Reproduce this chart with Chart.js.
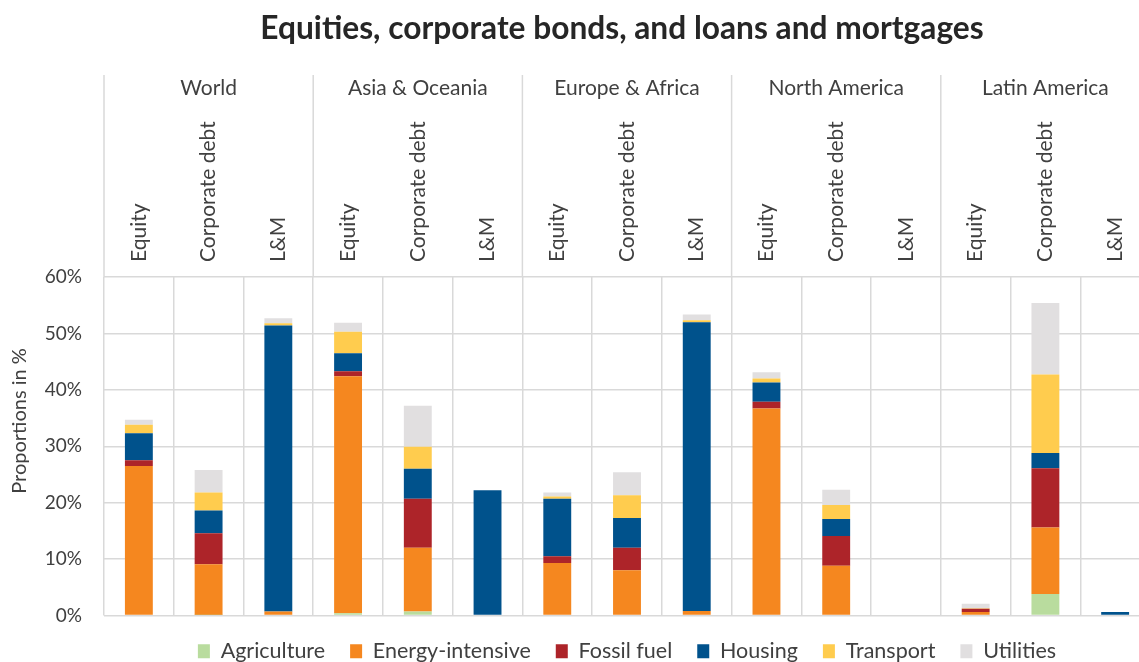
<!DOCTYPE html>
<html>
<head>
<meta charset="utf-8">
<style>
  html, body { margin: 0; padding: 0; background: #fff; overflow: hidden; }
  #wrap { width: 1150px; height: 672px; position: relative; }
</style>
<script src="https://cdn.jsdelivr.net/npm/chart.js@4.4.1/dist/chart.umd.min.js"></script>
</head>
<body>
<div id="wrap"><canvas id="c"></canvas></div>
<script>
// regions and instruments — one bar per (region, instrument)
const regions = ['World', 'Asia & Oceania', 'Europe & Africa', 'North America', 'Latin America'];
const instruments = ['Equity', 'Corporate debt', 'L&M'];
const yTicks = [0, 10, 20, 30, 40, 50, 60];

// shares in %, order: World E/CD/LM, Asia E/CD/LM, Europe ..., N. America ..., Latin ...
const agriculture     = [0.0, 0.1, 0.0,  0.4, 0.7, 0.0,   0.0, 0.0, 0.0,   0.0, 0.0, 0.0,  0.0, 3.8, 0.0];
const energyIntensive = [26.5, 9.0, 0.7, 42.0, 11.3, 0.0,  9.3, 8.0, 0.8,  36.7, 8.8, 0.0,  0.6, 11.8, 0.0];
const fossilFuel      = [1.0, 5.5, 0.0,  0.9, 8.7, 0.0,   1.2, 4.0, 0.0,   1.2, 5.3, 0.0,  0.6, 10.5, 0.0];
const housing         = [4.8, 4.0, 50.7, 3.2, 5.3, 22.2,  10.2, 5.3, 51.2, 3.4, 3.0, 0.0,  0.0, 2.7, 0.6];
const transport       = [1.5, 3.2, 0.4,  3.8, 3.9, 0.0,   0.4, 4.0, 0.35,  0.7, 2.5, 0.0,  0.1, 13.9, 0.0];
const utilities       = [0.9, 4.0, 0.9,  1.6, 7.3, 0.0,   0.7, 4.1, 1.0,   1.1, 2.7, 0.0,  0.8, 12.7, 0.0];

const labels = [];
regions.forEach(r => instruments.forEach(i => labels.push(r + '|' + i)));

const FONT = 'Lato, "Open Sans", sans-serif';
const GRID = '#d9d9d9';
const TEXT = '#404040';

const sectors = [
  { label: 'Agriculture',      data: agriculture,     color: '#b9dc9e' },
  { label: 'Energy-intensive', data: energyIntensive, color: '#f5871f' },
  { label: 'Fossil fuel',      data: fossilFuel,      color: '#ad2429' },
  { label: 'Housing',          data: housing,         color: '#00528c' },
  { label: 'Transport',        data: transport,       color: '#ffcc4e' },
  { label: 'Utilities',        data: utilities,       color: '#e1dfe0' },
];

// header: title, region names, rotated instrument names, y title
const headerPlugin = {
  id: 'header',
  afterDraw(chart) {
    const { ctx, chartArea } = chart;
    const x = chart.scales.x;
    const half = (x.getPixelForValue(1) - x.getPixelForValue(0)) / 2;
    ctx.save();

    ctx.fillStyle = '#262626';
    ctx.font = 'bold 31.7px ' + FONT;
    ctx.textAlign = 'center';
    ctx.textBaseline = 'middle';
    ctx.fillText('Equities, corporate bonds, and loans and mortgages', 622, 29);

    // group separators running up into the header
    ctx.strokeStyle = GRID;
    ctx.lineWidth = 1.5;
    regions.forEach((r, g) => {
      const left = x.getPixelForValue(g * 3) - half;
      ctx.beginPath();
      ctx.moveTo(left, 75);
      ctx.lineTo(left, chartArea.top);
      ctx.stroke();
    });

    ctx.fillStyle = TEXT;
    ctx.font = '21px ' + FONT;
    regions.forEach((r, g) => {
      const cx = x.getPixelForValue(g * 3 + 1);
      ctx.fillText(r, cx, 88);
    });

    labels.forEach((lab, i) => {
      const cx = x.getPixelForValue(i);
      ctx.save();
      ctx.translate(cx, 262);
      ctx.rotate(-Math.PI / 2);
      ctx.textAlign = 'left';
      ctx.fillText(lab.split('|')[1], 0, 0);
      ctx.restore();
    });

    ctx.font = '20px ' + FONT;
    ctx.save();
    ctx.translate(20, 421);
    ctx.rotate(-Math.PI / 2);
    ctx.fillText('Proportions in %', 0, 0);
    ctx.restore();

    ctx.restore();
  }
};

new Chart(document.getElementById('c'), {
  type: 'bar',
  data: {
    labels,
    datasets: sectors.map(s => ({
      label: s.label,
      data: s.data,
      backgroundColor: s.color,
      borderWidth: 0,
      categoryPercentage: 1,
      barPercentage: 0.4,
    })),
  },
  options: {
    responsive: true,
    maintainAspectRatio: false,
    animation: false,
    layout: { padding: { top: 277, left: 0, right: 0, bottom: 0 } },
    plugins: {
      title: { display: false },
      tooltip: { enabled: false },
      legend: {
        position: 'bottom',
        fullSize: false,
        labels: {
          color: TEXT,
          font: { family: FONT, size: 21.5 },
          boxWidth: 12,
          boxHeight: 14,
          padding: 25,
        },
      },
    },
    scales: {
      x: {
        stacked: true,
        position: 'top',
        ticks: { display: false },
        grid: { color: GRID, lineWidth: 1.5, drawTicks: false, offset: true },
        border: { display: false },
      },
      y: {
        stacked: true,
        min: 0,
        max: 60,
        afterFit(scale) { scale.width = 104; },
        afterBuildTicks(scale) { scale.ticks = yTicks.map(v => ({ value: v })); },
        ticks: {
          color: TEXT,
          padding: 22,
          font: { family: FONT, size: 19 },
          callback: v => v + '%',
        },
        grid: { color: GRID, lineWidth: 1.5, drawTicks: false },
        border: { display: false },
      },
    },
  },
  plugins: [headerPlugin],
});
</script>
</body>
</html>
